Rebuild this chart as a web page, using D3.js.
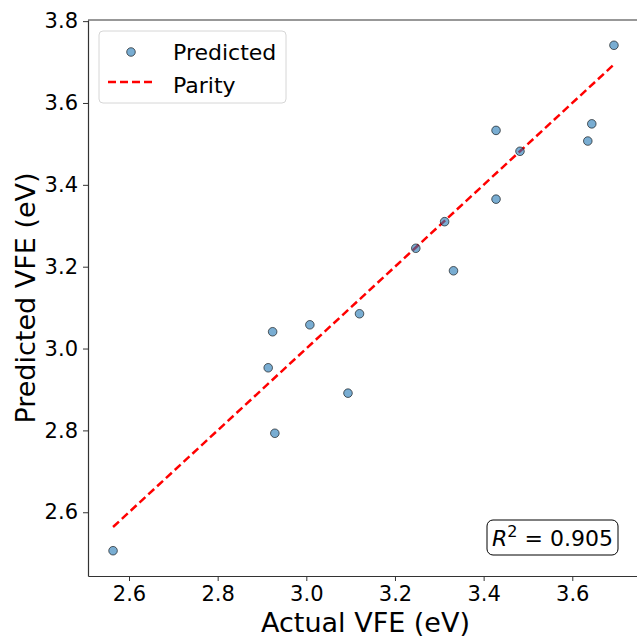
<!DOCTYPE html>
<html>
<head>
<meta charset="utf-8">
<script src="https://cdn.jsdelivr.net/npm/d3@7"></script>
<style>
  body { margin: 0; background: #fff; }
  text { font-family: "DejaVu Sans", sans-serif; fill: #000; }
</style>
</head>
<body>
<div id="chart"></div>
<script>
// actual vs predicted vacancy formation energies (eV)
var actual    = [3.694, 3.644, 3.635, 3.428, 3.482, 3.428, 3.312, 3.247, 3.332, 3.120, 2.924, 3.008, 2.914, 2.929, 2.564, 3.094];
var predicted = [3.741, 3.549, 3.507, 3.533, 3.482, 3.365, 3.310, 3.245, 3.190, 3.085, 3.041, 3.058, 2.953, 2.793, 2.506, 2.891];
var xTicks = [2.6, 2.8, 3.0, 3.2, 3.4, 3.6];
var yTicks = [2.6, 2.8, 3.0, 3.2, 3.4, 3.6, 3.8];
var r2 = 0.905;

var W = 637, H = 638;
var margin = {top: 20, right: -2, bottom: 62, left: 88};
var width = W - margin.left - margin.right,
    height = H - margin.top - margin.bottom;

var data = actual.map(function(a, i){ return {x: a, y: predicted[i]}; });

// matplotlib style 5% padding
var xMin = d3.min(actual), xMax = d3.max(actual);
var yMin = d3.min(predicted.concat([xMin])), yMax = d3.max(predicted.concat([xMax]));
var xPad = (xMax - xMin) * 0.05, yPad = (yMax - yMin) * 0.05;

var x = d3.scaleLinear().domain([xMin - xPad, xMax + xPad]).range([0, width]);
var y = d3.scaleLinear().domain([yMin - yPad, yMax + yPad]).range([height, 0]);

var svg = d3.select("#chart").append("svg")
    .attr("width", W)
    .attr("height", H)
  .append("g")
    .attr("transform", "translate(" + margin.left + "," + margin.top + ")");

// parity line
svg.append("line")
    .attr("x1", x(xMin)).attr("y1", y(xMin))
    .attr("x2", x(xMax)).attr("y2", y(xMax))
    .attr("stroke", "red")
    .attr("stroke-width", 2.5)
    .attr("stroke-dasharray", "8,4");

// points
svg.selectAll(".dot")
    .data(data)
  .enter().append("circle")
    .attr("class", "dot")
    .attr("cx", function(d){ return x(d.x); })
    .attr("cy", function(d){ return y(d.y); })
    .attr("r", 4.3)
    .attr("fill", "#1f77b4")
    .attr("fill-opacity", 0.6)
    .attr("stroke", "#000")
    .attr("stroke-opacity", 0.6)
    .attr("stroke-width", 1);

// axes
var xAxis = svg.append("g")
    .attr("transform", "translate(0," + height + ")")
    .call(d3.axisBottom(x).tickValues(xTicks).tickFormat(d3.format(".1f")).tickSize(5).tickSizeOuter(0).tickPadding(5));
var yAxis = svg.append("g")
    .call(d3.axisLeft(y).tickValues(yTicks).tickFormat(d3.format(".1f")).tickSize(5).tickSizeOuter(0).tickPadding(5));

[xAxis, yAxis].forEach(function(a){
  a.select(".domain").attr("stroke", "#333").attr("stroke-width", 1.2);
  a.selectAll(".tick line").attr("stroke", "#333").attr("stroke-width", 1);
  a.selectAll(".tick text").attr("font-size", 21).attr("font-family", "DejaVu Sans").attr("fill", "#000");
});

// top and right spines (right one falls outside the crop)
svg.append("line")
    .attr("x1", 0).attr("x2", width)
    .attr("y1", 0).attr("y2", 0)
    .attr("stroke", "#333").attr("stroke-width", 1.2);
svg.append("line")
    .attr("x1", width).attr("x2", width)
    .attr("y1", 0).attr("y2", height)
    .attr("stroke", "#333").attr("stroke-width", 1.2);

// axis labels
svg.append("text")
    .attr("x", width / 2 + 2)
    .attr("y", height + 56)
    .attr("text-anchor", "middle")
    .attr("font-size", 27)
    .text("Actual VFE (eV)");

svg.append("text")
    .attr("transform", "translate(" + (35 - margin.left) + "," + (height / 2) + ") rotate(-90)")
    .attr("text-anchor", "middle")
    .attr("font-size", 27)
    .text("Predicted VFE (eV)");

// legend
var leg = svg.append("g").attr("transform", "translate(11,11)");
leg.append("rect")
    .attr("width", 187).attr("height", 72)
    .attr("rx", 4)
    .attr("fill", "#fff").attr("fill-opacity", 0.8)
    .attr("stroke", "#d6d6d6").attr("stroke-width", 1);
leg.append("circle")
    .attr("cx", 32).attr("cy", 21)
    .attr("r", 4.3)
    .attr("fill", "#1f77b4").attr("fill-opacity", 0.6)
    .attr("stroke", "#000").attr("stroke-opacity", 0.6);
leg.append("text")
    .attr("x", 74).attr("y", 29)
    .attr("font-size", 22)
    .text("Predicted");
leg.append("line")
    .attr("x1", 9).attr("x2", 54)
    .attr("y1", 51).attr("y2", 51)
    .attr("stroke", "red").attr("stroke-width", 2.5)
    .attr("stroke-dasharray", "8,4");
leg.append("text")
    .attr("x", 74).attr("y", 62)
    .attr("font-size", 22)
    .text("Parity");

// R^2 box
var rb = svg.append("g").attr("transform", "translate(" + (487 - margin.left) + "," + (520 - margin.top) + ")");
rb.append("rect")
    .attr("width", 131).attr("height", 35)
    .attr("rx", 6)
    .attr("fill", "#fff")
    .attr("stroke", "#000").attr("stroke-width", 1);
var rt = rb.append("text")
    .attr("x", 65.5).attr("y", 26)
    .attr("text-anchor", "middle")
    .attr("font-size", 22);
rt.append("tspan").attr("font-style", "italic").text("R");
rt.append("tspan").attr("font-size", 16).attr("dy", -9).text("2");
rt.append("tspan").attr("dy", 9).text(" = " + d3.format(".3f")(r2));
</script>
</body>
</html>
